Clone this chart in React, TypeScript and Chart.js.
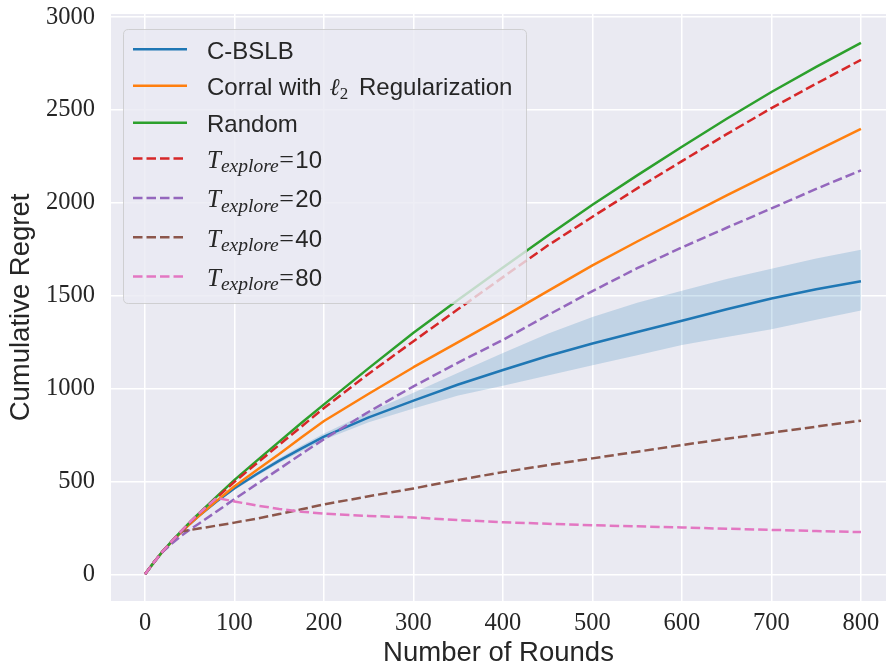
import React, { useEffect, useRef } from "react";
import { Chart, registerables } from "chart.js";

Chart.register(...registerables);

// ---------- data ----------
const rounds = [0, 10, 20, 30, 40, 50, 60, 80, 100, 125, 150, 175, 200, 250, 300, 350, 400, 450, 500, 550, 600, 650, 700, 750, 800];

const cbslb = [0, 65, 124, 176, 225, 271, 313, 392, 463, 540, 612, 678, 741, 845, 935, 1022, 1100, 1175, 1243, 1305, 1365, 1427, 1485, 1535, 1578];
const cbslbUpper = [0, 66, 126, 178, 228, 275, 317, 398, 472, 551, 625, 693, 758, 872, 978, 1085, 1191, 1295, 1385, 1462, 1527, 1590, 1645, 1700, 1748];
const cbslbLower = [0, 64, 122, 174, 222, 267, 309, 386, 454, 529, 599, 663, 724, 818, 892, 962, 1015, 1070, 1126, 1180, 1234, 1277, 1320, 1370, 1420];
const corral = [0, 65, 124, 175, 224, 270, 313, 395, 474, 562, 648, 738, 825, 972, 1115, 1250, 1385, 1525, 1663, 1792, 1917, 2040, 2160, 2280, 2399];
const random = [0, 65, 125, 178, 230, 280, 326, 418, 508, 612, 714, 816, 915, 1110, 1300, 1478, 1652, 1823, 1990, 2148, 2302, 2453, 2597, 2732, 2861];
const tExplore10 = [0, 65, 124, 177, 228, 277, 324, 412, 498, 598, 697, 796, 895, 1080, 1255, 1428, 1600, 1770, 1925, 2078, 2225, 2370, 2510, 2642, 2770];
const tExplore20 = [0, 65, 122, 165, 205, 240, 272, 338, 405, 486, 567, 648, 728, 875, 1012, 1140, 1262, 1395, 1525, 1648, 1760, 1866, 1970, 2075, 2175];
const tExplore40 = [0, 65, 125, 178, 230, 238, 246, 262, 278, 300, 324, 350, 376, 420, 462, 508, 550, 588, 624, 660, 696, 730, 762, 795, 827];
const tExplore80 = [0, 65, 125, 178, 230, 280, 326, 411, 392, 370, 352, 337, 326, 314, 306, 292, 280, 272, 264, 258, 252, 245, 239, 233, 227];

const seriesNames = [
  "C-BSLB",
  "Corral with ℓ2 Regularization",
  "Random",
  "T_explore=10",
  "T_explore=20",
  "T_explore=40",
  "T_explore=80",
];

const xTicks = [0, 100, 200, 300, 400, 500, 600, 700, 800];
const yTicks = [0, 500, 1000, 1500, 2000, 2500, 3000];

const xTitle = "Number of Rounds";
const yTitle = "Cumulative Regret";

// ---------- styles ----------
const COLORS = ["#1f77b4", "#ff7f0e", "#2ca02c", "#d62728", "#9467bd", "#8c564b", "#e377c2"];
const DASHED = [false, false, false, true, true, true, true];
const DASH = [9.5, 4];
const LW = 2.5;
const TEXT = "#262626";
const SANS = '"Liberation Sans", Arial, sans-serif';
const SERIF = '"Liberation Serif", "DejaVu Serif", serif';

const pts = (ys: number[]) => rounds.map((r, i) => ({ x: r, y: ys[i] }));

// background of the axes
const bgPlugin = {
  id: "axesBg",
  beforeDraw(chart: any) {
    const { ctx, chartArea } = chart;
    ctx.save();
    ctx.fillStyle = "#EAEAF2";
    ctx.fillRect(chartArea.left, chartArea.top, chartArea.right - chartArea.left, chartArea.bottom - chartArea.top);
    ctx.restore();
  },
};

type Seg = { t: string; font: string; dy: number; pre?: number; post?: number };

function labelSegments(name: string): Seg[] {
  const sansFont = `24px ${SANS}`;
  if (name.startsWith("T_explore=")) {
    const v = name.split("=")[1];
    return [
      { t: "T", font: `italic 25px ${SERIF}`, dy: 0 },
      { t: "explore", font: `italic 19.5px ${SERIF}`, dy: 4.5 },
      { t: "=", font: `26px ${SERIF}`, dy: 0, pre: 0.5, post: 1.5 },
      { t: v, font: sansFont, dy: 0 },
    ];
  }
  if (name.includes("ℓ2")) {
    const [a, b] = name.split("ℓ2");
    return [
      { t: a, font: sansFont, dy: 0, post: 1.5 },
      { t: "ℓ", font: `italic 24px ${SERIF}`, dy: 0 },
      { t: "2", font: `17px ${SERIF}`, dy: 4, post: 4 },
      { t: b, font: sansFont, dy: 0 },
    ];
  }
  return [{ t: name, font: sansFont, dy: 0 }];
}

const legendPlugin = {
  id: "mplLegend",
  afterDatasetsDraw(chart: any) {
    const ctx = chart.ctx as CanvasRenderingContext2D;
    ctx.save();
    const bx = 123.5, by = 29.5, bw = 403, bh = 274, r = 5;
    ctx.beginPath();
    ctx.moveTo(bx + r, by);
    ctx.lineTo(bx + bw - r, by);
    ctx.quadraticCurveTo(bx + bw, by, bx + bw, by + r);
    ctx.lineTo(bx + bw, by + bh - r);
    ctx.quadraticCurveTo(bx + bw, by + bh, bx + bw - r, by + bh);
    ctx.lineTo(bx + r, by + bh);
    ctx.quadraticCurveTo(bx, by + bh, bx, by + bh - r);
    ctx.lineTo(bx, by + r);
    ctx.quadraticCurveTo(bx, by, bx + r, by);
    ctx.closePath();
    ctx.fillStyle = "rgba(234,234,242,0.8)";
    ctx.fill();
    ctx.strokeStyle = "rgba(200,200,200,0.8)";
    ctx.lineWidth = 1;
    ctx.stroke();

    const rowsY = [49.3, 85.7, 122.7, 158.5, 198, 237.3, 276.5];
    seriesNames.forEach((name, i) => {
      const y = rowsY[i];
      ctx.strokeStyle = COLORS[i];
      ctx.lineWidth = LW;
      ctx.lineCap = "butt";
      ctx.setLineDash(DASHED[i] ? DASH : []);
      ctx.beginPath();
      ctx.moveTo(133, y);
      ctx.lineTo(187, y);
      ctx.stroke();
      ctx.setLineDash([]);

      let x = 207;
      const base = y + 9.3;
      ctx.fillStyle = TEXT;
      ctx.textBaseline = "alphabetic";
      ctx.textAlign = "left";
      for (const s of labelSegments(name)) {
        ctx.font = s.font;
        x += s.pre || 0;
        ctx.fillText(s.t, x, base + s.dy);
        x += ctx.measureText(s.t).width + (s.post || 0);
      }
    });
    ctx.restore();
  },
};

function lineDs(i: number, ys: number[], order: number) {
  return {
    label: seriesNames[i],
    data: pts(ys),
    borderColor: COLORS[i],
    backgroundColor: COLORS[i],
    borderWidth: LW,
    borderDash: DASHED[i] ? DASH : [],
    borderCapStyle: "butt",
    borderJoinStyle: "round",
    pointRadius: 0,
    tension: 0,
    fill: false,
    order,
  };
}

export default function App() {
  const ref = useRef<HTMLCanvasElement | null>(null);

  useEffect(() => {
    if (!ref.current) return;
    const chart = new Chart(ref.current, {
      type: "line",
      data: {
        datasets: [
          {
            label: "band-upper",
            data: pts(cbslbUpper),
            borderWidth: 0,
            borderColor: "rgba(0,0,0,0)",
            backgroundColor: "rgba(31,119,180,0.2)",
            pointRadius: 0,
            fill: "+1",
            order: 20,
          },
          {
            label: "band-lower",
            data: pts(cbslbLower),
            borderWidth: 0,
            borderColor: "rgba(0,0,0,0)",
            pointRadius: 0,
            fill: false,
            order: 20,
          },
          lineDs(0, cbslb, 9),
          lineDs(1, corral, 7),
          lineDs(2, random, 6),
          lineDs(3, tExplore10, 5),
          lineDs(4, tExplore20, 4),
          lineDs(5, tExplore40, 3),
          lineDs(6, tExplore80, 2),
        ] as any,
      },
      options: {
        responsive: false,
        animation: false,
        devicePixelRatio: 1,
        layout: { padding: { top: 14, left: 0, right: 0, bottom: 0 } },
        plugins: {
          legend: { display: false },
          tooltip: { enabled: false },
        },
        scales: {
          x: {
            type: "linear",
            min: -38,
            max: 828,
            afterBuildTicks: (s: any) => {
              s.ticks = xTicks.map((v) => ({ value: v }));
            },
            afterFit: (s: any) => {
              s.height = 64;
              s.paddingLeft = 0;
              s.paddingRight = 0;
            },
            grid: { color: "#ffffff", lineWidth: 1.5, drawTicks: false },
            border: { display: false },
            ticks: {
              color: TEXT,
              padding: 10,
              maxRotation: 0,
              autoSkip: false,
              font: { family: SERIF, size: 24.5, lineHeight: 1 },
              callback: (v: any) => String(v),
            },
            title: {
              display: true,
              text: xTitle,
              color: TEXT,
              font: { family: SANS, size: 27.5, lineHeight: 0.85 },
              padding: { top: 0, bottom: 0 },
            },
          },
          y: {
            type: "linear",
            min: -144,
            max: 3017,
            afterBuildTicks: (s: any) => {
              s.ticks = yTicks.map((v) => ({ value: v }));
            },
            afterFit: (s: any) => {
              s.width = 111;
              s.paddingTop = 0;
              s.paddingBottom = 0;
            },
            grid: { color: "#ffffff", lineWidth: 1.5, drawTicks: false },
            border: { display: false },
            ticks: {
              color: TEXT,
              padding: 16,
              autoSkip: false,
              font: { family: SERIF, size: 24.5, lineHeight: 1 },
              callback: (v: any) => String(v),
            },
            title: {
              display: true,
              text: yTitle,
              color: TEXT,
              font: { family: SANS, size: 27.5, lineHeight: 0.85 },
              padding: { top: 9.5, bottom: 0 },
            },
          },
        },
      } as any,
      plugins: [bgPlugin, legendPlugin],
    });
    return () => chart.destroy();
  }, []);

  return (
    <div style={{ position: "absolute", left: 0, top: 0, width: 886, height: 665, background: "#ffffff" }}>
      <canvas ref={ref} width={886} height={665} style={{ display: "block", width: 886, height: 665 }} />
    </div>
  );
}
